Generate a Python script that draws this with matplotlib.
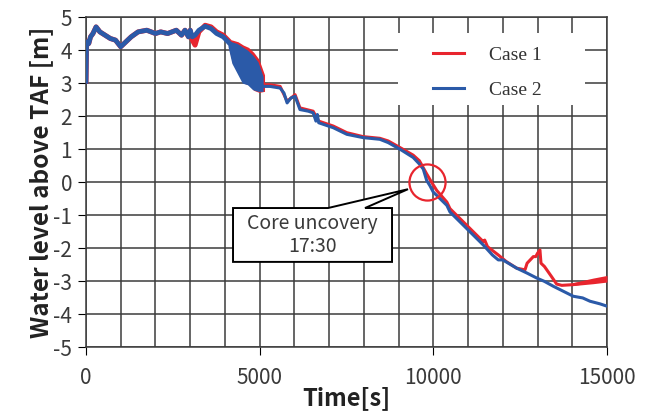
import numpy as np
import matplotlib
matplotlib.use("Agg")
import matplotlib.pyplot as plt
from matplotlib.patches import Polygon, Rectangle

plt.rcParams["axes.unicode_minus"] = False

# --- data ---
blue_t = [0, 15, 40, 80, 130, 200, 290, 400, 550, 700, 850, 1000, 1150, 1300, 1500,
          1750, 2000, 2150, 2350, 2600, 2750, 2850, 2950, 3000, 3060, 3140, 3250, 3430,
          3600, 3760, 3950, 4090, 4500, 5100, 5300, 5590, 5700, 5790, 5900, 6020, 6160,
          6400, 6540, 6620, 6660, 6700, 7120, 7510, 7980, 8460, 8700, 9040, 9420, 9600,
          9710, 9810, 9900, 10000, 10100, 10390, 10480, 10960, 11440, 11700, 11870, 12000,
          12400, 12700, 12980, 13200, 13460, 14030, 14300, 14510, 14800, 15000]
blue_y = [3.05, 4.1, 4.25, 4.2, 4.4, 4.5, 4.7, 4.55, 4.45, 4.35, 4.3, 4.1, 4.25, 4.4, 4.55,
          4.6, 4.5, 4.55, 4.5, 4.6, 4.45, 4.6, 4.4, 4.6, 4.4, 4.45, 4.6, 4.72,
          4.65, 4.5, 4.4, 4.25, 3.5, 2.9, 2.9, 2.85, 2.7, 2.4, 2.55, 2.6, 2.2,
          2.15, 2.1, 1.85, 2.05, 1.8, 1.65, 1.45, 1.35, 1.3, 1.2, 1.0, 0.75, 0.55,
          0.4, 0.05, -0.1, -0.3, -0.4, -0.7, -0.9, -1.4, -1.9, -2.2, -2.35, -2.35,
          -2.6, -2.75, -2.9, -3.0, -3.15, -3.45, -3.5, -3.6, -3.68, -3.75]

red_t = [0, 15, 40, 80, 130, 200, 290, 400, 550, 700, 850, 1000, 1150, 1300, 1500,
         1750, 2000, 2150, 2350, 2600, 2750, 2850, 2950, 3000, 3060, 3140, 3250, 3430,
         3600, 3760, 3950, 4090, 4500, 5130, 5300, 5590, 5790, 6020, 6160, 6540, 6700,
         7120, 7510, 7980, 8460, 8700, 9040, 9420, 9600, 9810, 9950, 10100, 10390, 10480,
         10960, 11440, 11480, 11560, 11870, 12100, 12400, 12640, 12700, 12880, 12950, 13000,
         13070, 13100, 13200, 13400, 13550, 13700, 14000, 14300, 14600, 15000]
red_y = [3.05, 4.1, 4.25, 4.2, 4.4, 4.5, 4.7, 4.55, 4.45, 4.35, 4.3, 4.1, 4.25, 4.4, 4.55,
         4.6, 4.5, 4.55, 4.5, 4.6, 4.45, 4.6, 4.4, 4.6, 4.3, 4.15, 4.55, 4.75,
         4.7, 4.55, 4.45, 4.3, 3.55, 2.95, 2.95, 2.9, 2.45, 2.65, 2.25, 2.15, 1.85,
         1.7, 1.5, 1.38, 1.33, 1.25, 1.05, 0.82, 0.65, 0.25, 0.0, -0.25, -0.6, -0.8,
         -1.3, -1.8, -1.75, -1.95, -2.2, -2.4, -2.6, -2.65, -2.45, -2.25, -2.25, -2.15,
         -2.05, -2.45, -2.55, -2.85, -3.08, -3.12, -3.1, -3.05, -3.0, -2.92]

# oscillating band (envelopes)
band_t = [4090, 4200, 4350, 4500, 4650, 4800, 4950, 5100]
band_top = [4.3, 4.25, 4.2, 4.1, 4.0, 3.85, 3.65, 3.2]
band_bot = [4.1, 3.6, 3.3, 3.0, 2.95, 2.8, 2.75, 2.75]
red_band_t = [4100, 4220, 4380, 4530, 4680, 4830, 4980, 5140]
red_band_top = [4.33, 4.3, 4.25, 4.15, 4.08, 3.93, 3.72, 3.25]
red_band_bot = [4.1, 3.6, 3.3, 3.0, 2.95, 2.78, 2.72, 2.75]
red_tail_t = [14000, 14300, 14600, 15000]
red_tail_top = [-3.05, -2.97, -2.9, -2.82]
red_tail_bot = [-3.13, -3.1, -3.07, -3.02]

RED = "#e8252e"
BLUE = "#2b5aa8"
GRID = "#3c3c3c"
TXT = "#3a3a3a"
JP = ["Noto Sans CJK JP", "DejaVu Sans"]

fig = plt.figure(figsize=(6.54, 4.17), dpi=100)
ax = fig.add_axes([0.1315, 0.1667, 0.7966, 0.7925])

ax.fill_between(red_band_t, red_band_bot, red_band_top, color=RED, lw=0, zorder=3)
ax.fill_between(red_tail_t, red_tail_bot, red_tail_top, color=RED, lw=0, zorder=3)
ax.plot(red_t[:32], red_y[:32], color=RED, lw=3.6, zorder=3)
ax.plot(red_t, red_y, color=RED, lw=2.2, zorder=3, label="Case 1")
ax.fill_between(band_t, band_bot, band_top, color=BLUE, lw=0, zorder=4)
ax.plot(blue_t[:32], blue_y[:32], color=BLUE, lw=3.4, zorder=4)
ax.plot(blue_t, blue_y, color=BLUE, lw=2.2, zorder=4, label="Case 2")

ax.set_xlim(0, 15000)
ax.set_ylim(-5, 5)
ax.set_xticks([0, 5000, 10000, 15000])
ax.set_xticks(np.arange(0, 15001, 1000), minor=True)
ax.set_yticks(np.arange(-5, 6, 1))
ax.grid(True, which="both", color=GRID, lw=1.1)
ax.tick_params(axis="x", which="minor", length=0)
ax.tick_params(axis="both", which="major", direction="out", length=6, color="black",
               labelsize=15, labelcolor=TXT, pad=8)
ax.tick_params(axis="y", pad=4)
for lab in ax.get_xticklabels() + ax.get_yticklabels():
    lab.set_family(JP)
for s in ax.spines.values():
    s.set_color(GRID)
    s.set_linewidth(1.1)

ax.set_xlabel("Time[s]", fontsize=17, fontweight="bold", family=JP,
              labelpad=-2, color="#222222")
ax.set_ylabel("Water level above TAF [m]", fontsize=17.5, fontweight="bold", family=JP,
              labelpad=0, color="#222222")

# white area behind legend
ax.add_patch(Rectangle((0.599, 0.734), 0.359, 0.218, transform=ax.transAxes,
                       facecolor="white", edgecolor="none", zorder=5))
leg = ax.legend(loc="center", bbox_to_anchor=(0.77, 0.832), frameon=False,
                prop={"family": "Liberation Serif", "size": 14}, handlelength=1.6,
                handletextpad=1.3, labelspacing=0.9)
leg.set_zorder(6)
for t in leg.get_texts():
    t.set_color("#333333")

# core uncovery marker and callout
ax.plot([9810], [0.0], marker="o", ms=26, mfc="none", mec=RED, mew=1.6, zorder=7)
callout = Polygon([(4233, -0.78), (6968, -0.78), (9271, -0.21), (8033, -0.78),
                   (8811, -0.78), (8811, -2.41), (4233, -2.41)], closed=True,
                  facecolor="white", edgecolor="black", lw=1.4, zorder=6)
ax.add_patch(callout)
ax.text(6522, -1.6, "Core uncovery\n17:30", ha="center", va="center", fontsize=14,
        color=TXT, family=JP, linespacing=1.15, zorder=7)

fig.savefig("out.png", dpi=100)
